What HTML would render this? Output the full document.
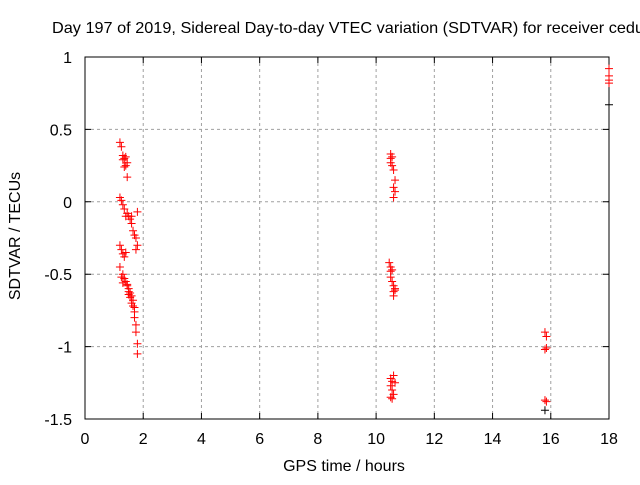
<!DOCTYPE html>
<html><head><meta charset="utf-8"><style>
body{margin:0;background:#fff;width:640px;height:480px;overflow:hidden}
text{font-family:"Liberation Sans",sans-serif;font-size:16px;fill:#000}
</style></head><body>
<svg id="chart" width="640" height="480" xmlns="http://www.w3.org/2000/svg">
<text x="52" y="33" textLength="592" lengthAdjust="spacingAndGlyphs">Day 197 of 2019, Sidereal Day-to-day VTEC variation (SDTVAR) for receiver cedu</text>
<text transform="translate(20,236) rotate(-90)" text-anchor="middle">SDTVAR / TECUs</text>
<text x="344" y="471" text-anchor="middle">GPS time / hours</text>
<g id="grid"></g><g id="axes"></g><g id="marks"></g>
</svg>
<script>
const xTicks=[0,2,4,6,8,10,12,14,16,18];
const yTicks=[1,0.5,0,-0.5,-1,-1.5];
const yTickLabels=["1","0.5","0","-0.5","-1","-1.5"];
const redX=[1.2,1.25,1.3,1.35,1.4,1.45,1.35,1.4,1.3,1.45,
1.2,1.25,1.3,1.35,1.4,1.5,1.55,1.6,1.65,1.7,1.75,1.8,1.8,1.75,1.6,1.45,
1.2,1.25,1.3,1.35,1.4,1.3,1.35,1.4,1.45,1.5,1.5,1.55,1.6,1.6,1.65,1.7,1.7,1.75,1.75,1.8,1.8,1.2,1.25,1.3,1.45,1.5,1.55,1.65,1.7,
10.5,10.5,10.55,10.5,10.55,10.6,10.65,10.6,10.65,10.6,
10.45,10.5,10.5,10.55,10.5,10.55,10.6,10.65,10.6,10.65,10.6,
10.5,10.55,10.5,10.6,10.55,10.65,10.6,10.55,10.5,
15.8,15.85,15.8,15.85,15.8,15.85,
18,18,18,18];
const redY=[0.41,0.38,0.32,0.3,0.31,0.27,0.24,0.25,0.29,0.17,
0.03,0.01,-0.02,-0.05,-0.1,-0.1,-0.12,-0.15,-0.2,-0.23,-0.25,-0.3,-0.07,-0.33,-0.1,-0.08,
-0.3,-0.33,-0.36,-0.38,-0.35,-0.5,-0.53,-0.55,-0.57,-0.6,-0.62,-0.63,-0.65,-0.7,-0.72,-0.76,-0.8,-0.85,-0.9,-0.98,-1.05,-0.45,-0.52,-0.56,-0.58,-0.64,-0.66,-0.68,-0.73,
0.33,0.3,0.31,0.27,0.25,0.22,0.15,0.1,0.07,0.03,
-0.42,-0.45,-0.48,-0.47,-0.52,-0.55,-0.58,-0.6,-0.62,-0.61,-0.65,
-1.22,-1.24,-1.27,-1.2,-1.3,-1.25,-1.33,-1.36,-1.35,
-0.9,-0.93,-1.02,-1.01,-1.37,-1.38,
0.92,0.87,0.84,0.82];
const blackX=[15.8,18];
const blackY=[-1.44,0.67];
const L=85,R=609,T=57,B=419,NS="http://www.w3.org/2000/svg";
const xs=v=>L+(v-0)/18*(R-L), ys=v=>T+(1-v)/2.5*(B-T);
function mk(t,a,p){const e=document.createElementNS(NS,t);for(const k in a)e.setAttribute(k,a[k]);document.getElementById(p).appendChild(e);return e;}
xTicks.forEach((t,i)=>{const x=xs(t);
 if(i>0&&i<xTicks.length-1){const g=mk('line',{x1:x,x2:x,y1:T,y2:B,stroke:'#a0a0a0','stroke-dasharray':'3,3'},'grid');}
 const tk=mk('path',{d:`M${x},${B}v-6M${x},${T}v6`,stroke:'#000'},'axes');
 const tx=mk('text',{x:x,y:B+25,'text-anchor':'middle'},'axes');tx.textContent=t;});
yTicks.forEach((t,i)=>{const y=ys(t);
 if(i>0&&i<yTicks.length-1){const g=mk('line',{x1:L,x2:R,y1:y,y2:y,stroke:'#a0a0a0','stroke-dasharray':'3,3'},'grid');}
 const tk=mk('path',{d:`M${L},${y}h6M${R},${y}h-6`,stroke:'#000'},'axes');
 const tx=mk('text',{x:L-13,y:y+6,'text-anchor':'end'},'axes');tx.textContent=yTickLabels[i];});
const fr=mk('rect',{x:L,y:T,width:R-L,height:B-T,fill:'none',stroke:'#000'},'axes');

function plus(x,y,c){const p=mk('path',{d:`M${xs(x)-4},${ys(y)}h8M${xs(x)},${ys(y)-4}v8`,stroke:c,'stroke-width':1},'marks');return p;}
blackX.forEach((x,i)=>{const p=plus(x,blackY[i],'#000');});
redX.forEach((x,i)=>{const p=plus(x,redY[i],'#f00');});
</script>
</body></html>
